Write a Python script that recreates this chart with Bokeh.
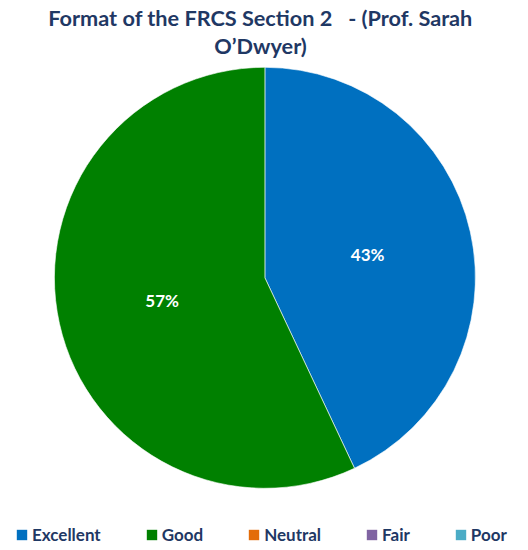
import math
from bokeh.plotting import figure
from bokeh.models import ColumnDataSource, Range1d, Label, Legend, LegendItem
from bokeh.core.properties import value as V
from bokeh.embed import file_html
from bokeh.resources import INLINE

categories = ["Excellent", "Good", "Neutral", "Fair", "Poor"]
values = [43, 57, 0, 0, 0]
colors = ["#0070C0", "#008000", "#E36C09", "#8064A2", "#4BACC6"]
title_lines = ["Format of the FRCS Section 2\u00a0\u00a0\u00a0- (Prof. Sarah", "O\u2019Dwyer)"]

W, H = 526, 548
FONT = "Lato"
TXT = "#1F3864"

def py(page_y):
    return H - page_y

def px(page_x):
    return page_x

total = sum(values)
cx, cy, R = px(264.4), py(277.3), 210.5

starts, ends, mids, keep = [], [], [], []
acc = 0.0
for v in values:
    a0 = math.pi / 2 - 2 * math.pi * acc / total
    acc += v
    a1 = math.pi / 2 - 2 * math.pi * acc / total
    starts.append(a1)
    ends.append(a0)
    mids.append((a0 + a1) / 2)
    keep.append(v > 0)

wsrc = ColumnDataSource(dict(
    cat=[c for c, k in zip(categories, keep) if k],
    color=[c for c, k in zip(colors, keep) if k],
    start=[s for s, k in zip(starts, keep) if k],
    end=[e for e, k in zip(ends, keep) if k],
    x=[cx] * sum(keep), y=[cy] * sum(keep)))

p = figure(width=W, height=H, output_backend="svg", toolbar_location=None,
           x_range=Range1d(0, W), y_range=Range1d(0, H), min_border=0)
p.axis.visible = False
p.grid.visible = False
p.outline_line_color = None
p.background_fill_color = "white"
p.border_fill_color = "white"

p.wedge(x="x", y="y", radius=R, start_angle="start", end_angle="end",
        direction="anticlock", fill_color="color", line_color="white",
        line_width=0.6, source=wsrc)

# legend proxy renderer (no visible marks)
nan = float("nan")
lgsrc = ColumnDataSource(dict(cat=categories, color=colors,
                              l=[nan] * len(categories), r=[nan] * len(categories),
                              t=[nan] * len(categories), b=[nan] * len(categories)))
lg = p.quad(left="l", right="r", top="t", bottom="b", fill_color="color",
            line_color=None, source=lgsrc)

# percentage labels
lx, ly, lt = [], [], []
for v, m in zip(values, mids):
    if v > 0:
        lx.append(cx + 0.5 * R * math.cos(m))
        ly.append(cy + 0.5 * R * math.sin(m))
        lt.append(f"{round(100 * v / total)}%")
lsrc = ColumnDataSource(dict(x=lx, y=ly, t=lt))
p.text(x="x", y="y", text="t", source=lsrc, text_color="white",
       text_font=V(FONT), text_font_style="bold", text_font_size="17px",
       text_align="center", text_baseline="middle")

# title
for i, line in enumerate(title_lines):
    p.add_layout(Label(x=px(260), y=py(17 + 28 * i), text=line, text_align="center",
                       text_baseline="middle", text_font=FONT, text_font_style="bold",
                       text_font_size="21.7px", text_color=TXT))

items = [LegendItem(label=c, renderers=[lg], index=i) for i, c in enumerate(categories)]
legend = Legend(items=items, orientation="horizontal", location=(px(15), py(538) - 7),
                padding=0, margin=0, spacing=44, glyph_width=13, glyph_height=13,
                label_standoff=4, label_height=14, label_text_font=FONT,
                label_text_font_style="bold", label_text_font_size="17px",
                label_text_color=TXT, border_line_color=None,
                background_fill_alpha=0, label_text_baseline="middle")
p.add_layout(legend, "center")

open("out.html", "w").write(file_html(p, INLINE))
